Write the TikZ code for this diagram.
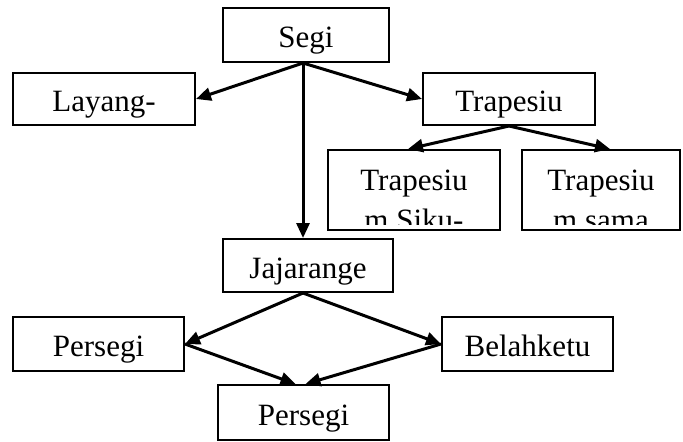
\documentclass[tikz,border=0pt]{standalone}
\usepackage{fontspec}
\setmainfont{Liberation Serif}
\usetikzlibrary{arrows}
\usetikzlibrary{arrows.meta}

\begin{document}
\begin{tikzpicture}[x=0.5pt,y=-0.5pt,
    box/.style={draw,line width=1pt,inner sep=0pt,text height=15pt,text depth=2.5pt,
        font=\fontsize{15.5pt}{18pt}\selectfont},
    label/.style={inner sep=0pt,anchor=base,font=\fontsize{15.5pt}{18pt}\selectfont},
    link/.style={line width=1.5pt,-{Triangle[length=7.5pt,width=6.5pt]}}]
    
    % keep the page as large as the reference
    \useasboundingbox (0,0) rectangle (683,441);
    
    % boxes
    \node[box,minimum width=83pt,minimum height=27pt] (segi) at (306,35) {Segi};
    \node[box,minimum width=91pt,minimum height=26pt] (layang) at (104,99) {Layang-};
    \node[box,minimum width=86pt,minimum height=26pt] (trapesium) at (509,99) {Trapesiu};
    \node[box,minimum width=86pt,minimum height=40pt] (siku) at (414,190) {};
    \node[box,minimum width=79pt,minimum height=40pt] (sama) at (601,190) {};
    \node[box,minimum width=85pt,minimum height=26.5pt] (jajar) at (308,265.5) {Jajarange};
    \node[box,minimum width=85.5pt,minimum height=27pt] (persegi) at (98.5,344) {Persegi};
    \node[box,minimum width=85.5pt,minimum height=27pt] (belah) at (527.5,344) {Belahketu};
    \node[box,minimum width=85.5pt,minimum height=27.5pt] (bawah) at (303.5,412.5) {Persegi};
    
    % text cut off at the foot of the two small boxes
    \begin{scope}
        \clip (328,150) rectangle (500,224);
        \node[label] (sikuA) at (414,190) {Trapesiu};
        \node[label] (sikuB) at (414,230) {m Siku-};
    \end{scope}
    \begin{scope}
        \clip (522,150) rectangle (680,224);
        \node[label] (samaA) at (601,190) {Trapesiu};
        \node[label] (samaB) at (601,230) {m sama};
    \end{scope}
    
    % arrows
    \draw[link] ([xshift=-1.5pt]segi.south) -- (layang.east);
    \draw[link] ([xshift=-1.5pt]segi.south) -- (trapesium.west);
    \draw[link] ([xshift=-1.5pt]segi.south) -- ([xshift=-2.5pt]jajar.north);
    \draw[link] (trapesium.south) -- ([xshift=-3pt]siku.north);
    \draw[link] (trapesium.south) -- ([xshift=4.5pt]sama.north);
    \draw[link] ([xshift=-2.5pt]jajar.south) -- (persegi.east);
    \draw[link] ([xshift=-2.5pt]jajar.south) -- (belah.west);
    \draw[link] (persegi.east) -- ([xshift=-4pt]bawah.north);
    \draw[link] (belah.west) -- ([xshift=1pt]bawah.north);
    
\end{tikzpicture}
\end{document}
